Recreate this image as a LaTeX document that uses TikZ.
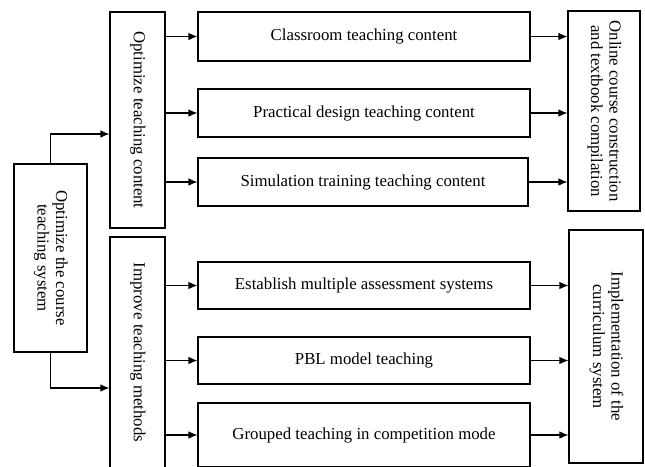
\documentclass[tikz,border=0pt]{standalone}
\usepackage{fontspec}
\setmainfont{Liberation Serif}
\usepackage{tikz}
\usetikzlibrary{arrows.meta}

\newcommand{\vtexte}[1]{\rotatebox{-90}{\begin{tabular}{@{}c@{}}#1\end{tabular}}}

\begin{document}
\begin{tikzpicture}[x=1pt, y=-1pt,
    bloc/.style={draw, line width=1.1pt, inner sep=0pt, font=\fontsize{16.8}{18.5}\selectfont},
    fleche/.style={line width=1.1pt, -{Latex[length=9pt, width=7.5pt]}}]
                \clip (0,0) rectangle (645,466);
                % Les blocs
                \node[bloc, minimum width=73pt, minimum height=188pt] (sys) at (50.5, 258) {\vtexte{Optimize the course\\teaching system}};
                \node[bloc, minimum width=55pt, minimum height=216pt] (opt) at (137.5, 120) {\vtexte{Optimize teaching content}};
                \node[bloc, minimum width=55pt, minimum height=231pt] (imp) at (137.5, 352.5) {\vtexte{Improve teaching methods}};
    
                \node[bloc, minimum width=332pt, minimum height=49pt] (c1) at (364, 36.5) {Classroom teaching content};
                \node[bloc, minimum width=332pt, minimum height=48pt] (c2) at (364, 113) {Practical design teaching content};
                \node[bloc, minimum width=330pt, minimum height=48pt] (c3) at (363, 182) {Simulation training teaching content};
                \node[bloc, minimum width=332pt, minimum height=47pt] (c4) at (364, 285.5) {Establish multiple assessment systems};
                \node[bloc, minimum width=332pt, minimum height=47pt] (c5) at (364, 360.5) {PBL model teaching};
                \node[bloc, minimum width=332pt, minimum height=64pt] (c6) at (364, 435) {Grouped teaching in competition mode};
    
                \node[bloc, minimum width=72pt, minimum height=200pt] (onl) at (604, 111) {\vtexte{Online course construction\\and textbook compilation}};
                \node[bloc, minimum width=74pt, minimum height=233pt] (real) at (606, 346.5) {\vtexte{Implementation of the\\curriculum system}};
    
                % Les flèches
                \draw[fleche] (sys.north) |- ([yshift=-14pt]opt.west);
                \draw[fleche] (sys.south) |- ([yshift=-35.5pt]imp.west);
                \draw[fleche] (opt.east |- c1.west) -- (c1.west);
                \draw[fleche] (opt.east |- c2.west) -- (c2.west);
                \draw[fleche] (opt.east |- c3.west) -- (c3.west);
                \draw[fleche] (imp.east |- c4.west) -- (c4.west);
                \draw[fleche] (imp.east |- c5.west) -- (c5.west);
                \draw[fleche] (imp.east |- c6.west) -- (c6.west);
                \draw[fleche] (c1.east) -- (onl.west |- c1.east);
                \draw[fleche] (c2.east) -- (onl.west |- c2.east);
                \draw[fleche] (c3.east) -- (onl.west |- c3.east);
                \draw[fleche] (c4.east) -- (real.west |- c4.east);
                \draw[fleche] (c5.east) -- (real.west |- c5.east);
                \draw[fleche] (c6.east) -- (real.west |- c6.east);
            \end{tikzpicture}
\end{document}
